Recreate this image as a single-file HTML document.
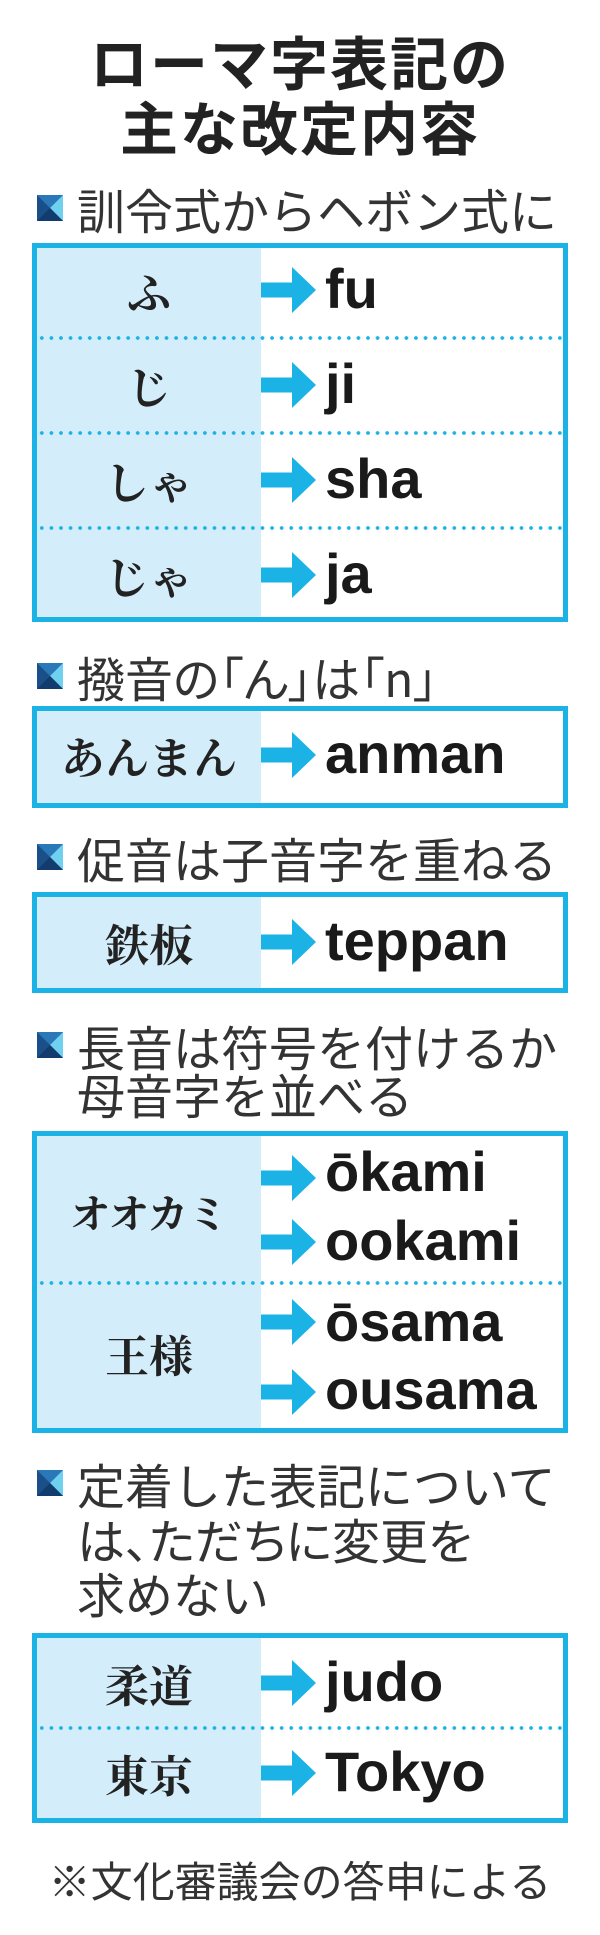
<!DOCTYPE html>
<html><head><meta charset="utf-8">
<style>
html,body{margin:0;padding:0;background:#fff;}
body{width:600px;height:1935px;position:relative;overflow:hidden;font-family:"Liberation Sans","Noto Sans CJK JP",sans-serif;color:#222;}
.title{position:absolute;left:0;width:600px;text-align:center;font-family:"Noto Sans CJK JP",sans-serif;font-weight:bold;font-size:58px;line-height:64px;color:#222;letter-spacing:2px;}
.h{position:absolute;left:77px;font-family:"Noto Sans CJK JP",sans-serif;font-size:48px;line-height:54px;color:#333;white-space:nowrap;}
.ic{position:absolute;left:37px;width:26px;height:26px;}
.box{position:absolute;left:32px;width:526px;border:5px solid #1bb3e6;background:linear-gradient(to right,#d3eefa 0,#d3eefa 224px,#fff 224px);}
.dot{position:absolute;left:37px;width:526px;height:4px;background:radial-gradient(circle,#1bb3e6 1.7px,transparent 2px) 0 0/9.6px 4px repeat-x;}
.l{position:absolute;left:37px;width:224px;text-align:center;font-family:"Noto Serif CJK JP","Noto Serif CJK SC",serif;font-weight:bold;font-size:44px;line-height:46px;color:#222;white-space:nowrap;}
.r{position:absolute;left:325px;font-family:"Liberation Sans",sans-serif;font-weight:bold;font-size:56px;line-height:56px;color:#1a1a1a;white-space:nowrap;}
.ar{position:absolute;left:261px;width:56px;height:46px;}
.fn{position:absolute;left:0;width:600px;text-align:center;font-family:"Noto Sans CJK JP",sans-serif;font-size:42px;line-height:48px;color:#333;}
</style></head><body>

<div class="title" style="top:28px">ローマ字表記の</div>
<div class="title" style="top:93px">主な改定内容</div>

<svg width="0" height="0" style="position:absolute">
<defs>
<g id="icon"><rect width="26" height="26" fill="#1b4f8a"/><polygon points="0,0 26,0 13,13" fill="#2a78b8"/><polygon points="26,0 26,26 13,13" fill="#6fd0f0"/><polygon points="0,26 13,13 26,26" fill="#123c6e"/></g>
<g id="arr"><rect x="0" y="15.5" width="32" height="15" fill="#1bb3e6"/><polygon points="31,0 55,23 31,46" fill="#1bb3e6"/></g>
</defs></svg>

<!-- Section 1 -->
<svg class="ic" style="top:195px"><use href="#icon"/></svg>
<div class="h" style="top:181px">訓令式からヘボン式に</div>
<div class="box" style="top:243px;height:369px"></div>
<div class="dot" style="top:336px"></div>
<div class="dot" style="top:431px"></div>
<div class="dot" style="top:526px"></div>
<div class="l" style="top:267px">ふ</div>
<div class="l" style="top:362px">じ</div>
<div class="l" style="top:457px">しゃ</div>
<div class="l" style="top:552px">じゃ</div>
<svg class="ar" style="top:267px"><use href="#arr"/></svg>
<svg class="ar" style="top:362px"><use href="#arr"/></svg>
<svg class="ar" style="top:457px"><use href="#arr"/></svg>
<svg class="ar" style="top:552px"><use href="#arr"/></svg>
<div class="r" style="top:261px">fu</div>
<div class="r" style="top:356px">ji</div>
<div class="r" style="top:451px">sha</div>
<div class="r" style="top:546px">ja</div>

<!-- Section 2 -->
<svg class="ic" style="top:663px"><use href="#icon"/></svg>
<div class="h" style="top:649px;font-feature-settings:'palt'">撥音の「ん」は「n」</div>
<div class="box" style="top:706px;height:92px"></div>
<div class="l" style="top:732px">あんまん</div>
<svg class="ar" style="top:732px"><use href="#arr"/></svg>
<div class="r" style="top:726px">anman</div>

<!-- Section 3 -->
<svg class="ic" style="top:844px"><use href="#icon"/></svg>
<div class="h" style="top:830px">促音は子音字を重ねる</div>
<div class="box" style="top:892px;height:91px"></div>
<div class="l" style="top:919px">鉄板</div>
<svg class="ar" style="top:919px"><use href="#arr"/></svg>
<div class="r" style="top:913px">teppan</div>

<!-- Section 4 -->
<svg class="ic" style="top:1032px"><use href="#icon"/></svg>
<div class="h" style="top:1018px">長音は符号を付けるか</div>
<div class="h" style="top:1066px">母音字を並べる</div>
<div class="box" style="top:1131px;height:292px"></div>
<div class="dot" style="top:1281px"></div>
<div class="l" style="top:1189px;font-size:40px">オオカミ</div>
<div class="l" style="top:1330px">王様</div>
<svg class="ar" style="top:1155px"><use href="#arr"/></svg>
<svg class="ar" style="top:1219px"><use href="#arr"/></svg>
<svg class="ar" style="top:1299px"><use href="#arr"/></svg>
<svg class="ar" style="top:1369px"><use href="#arr"/></svg>
<div class="r" style="top:1144px">ōkami</div>
<div class="r" style="top:1213px">ookami</div>
<div class="r" style="top:1294px">ōsama</div>
<div class="r" style="top:1362px">ousama</div>

<!-- Section 5 -->
<svg class="ic" style="top:1470px"><use href="#icon"/></svg>
<div class="h" style="top:1456px">定着した表記について</div>
<div class="h" style="top:1511px;font-feature-settings:'palt'">は、ただちに変更を</div>
<div class="h" style="top:1565px">求めない</div>
<div class="box" style="top:1633px;height:180px"></div>
<div class="dot" style="top:1726px"></div>
<div class="l" style="top:1660px">柔道</div>
<div class="l" style="top:1750px">東京</div>
<svg class="ar" style="top:1660px"><use href="#arr"/></svg>
<svg class="ar" style="top:1750px"><use href="#arr"/></svg>
<div class="r" style="top:1654px">judo</div>
<div class="r" style="top:1744px">Tokyo</div>

<div class="fn" style="top:1856px">※文化審議会の答申による</div>

</body></html>
